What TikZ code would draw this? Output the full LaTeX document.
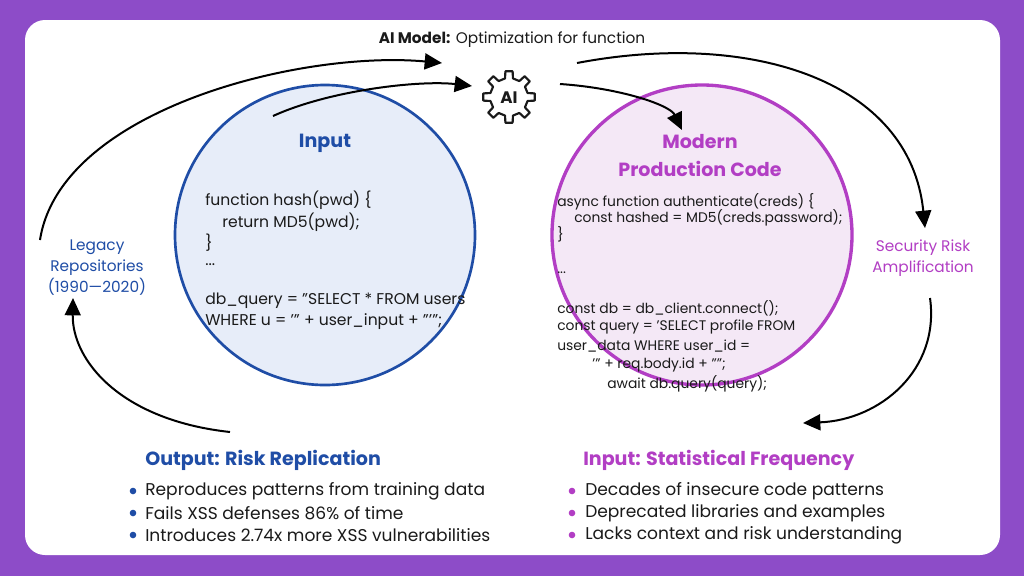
\documentclass[tikz,border=0pt]{standalone}
\usepackage{fontspec}
\setmainfont{Poppins}
\usetikzlibrary{arrows.meta}
\definecolor{bgp}{HTML}{8D4CC8}
\definecolor{bl}{HTML}{1F4DA6}
\definecolor{blf}{HTML}{E7EDF9}
\definecolor{pu}{HTML}{B23EC4}
\definecolor{puf}{HTML}{F4E8F6}
\definecolor{tx}{HTML}{1A1A1A}
\tikzset{
  code/.style={anchor=west,font=\fontsize{11.7}{13}\selectfont,text=tx,inner sep=0},
  codeb/.style={anchor=west,font=\fontsize{10.4}{13}\selectfont,text=tx,inner sep=0},
  arr/.style={line width=1.5pt,-{Triangle[length=13pt,width=12pt]}},
  bul/.style={anchor=west,font=\fontsize{12.8}{14}\selectfont,text=tx,inner sep=0},
  head/.style={font=\bfseries\fontsize{14.3}{16}\selectfont,inner sep=0},
}
\begin{document}
\begin{tikzpicture}[x=0.75pt,y=-0.75pt]
\useasboundingbox (0,0) rectangle (1024,576);
\fill[bgp] (0,0) rectangle (1024,576);
\fill[white,rounded corners=15pt] (25,20) rectangle (1000,555);
% circles
\node[circle,draw=bl,fill=blf,line width=2pt,minimum size=225pt,inner sep=0] (cin) at (325,235) {};
\node[circle,draw=pu,fill=puf,line width=2.5pt,minimum size=225pt,inner sep=0] (cout) at (702,235) {};
% gear
\draw[line width=1.6pt,line join=round,tx,shift={(509,97)}] (-12:19)
  \foreach \i in {0,...,7}{ -- (\i*45-12:19) -- (\i*45-8:26) -- (\i*45+8:26) -- (\i*45+12:19) -- (\i*45+33:19)} -- cycle;
\node[font=\bfseries\fontsize{12.5}{14}\selectfont,text=tx] (ai) at (509,98) {AI};
\node[font=\fontsize{11.5}{14}\selectfont,text=tx] (aim) at (512,40) {\textbf{AI Model:} Optimization for function};
% headings in circles
\node[head,text=bl] (inp) at (325,143) {Input};
\node[head,text=pu,align=center,font=\bfseries\fontsize{14.3}{21}\selectfont] (mod) at (700,156) {Modern\\Production Code};
% left code
\node[code] (l1) at (205,200) {function hash(pwd) \{};
\node[code] (l2) at (222,222) {return MD5(pwd);};
\node[code] (l3) at (205,243) {\}};
\node[code] (l4) at (205,265) {...};
\node[code] (l5) at (205,301) {db\_query = "SELECT * FROM users};
\node[code] (l6) at (205,322) {WHERE u = '" + user\_input + "'";};
% right code
\node[codeb] (r1) at (557,202) {async function authenticate(creds) \{};
\node[codeb] (r2) at (574,218) {const hashed = MD5(creds.password);};
\node[codeb] (r3) at (557,234) {\}};
\node[codeb] (r4) at (557,273) {...};
\node[codeb] (r5) at (557,308) {const db = db\_client.connect();};
\node[codeb] (r6) at (557,327) {const query = 'SELECT profile FROM};
\node[codeb] (r7) at (557,346) {user\_data WHERE user\_id =};
\node[codeb] (r8) at (592,365) {'" + req.body.id + "'';};
\node[codeb] (r9) at (607,384) {await db.query(query);};
% side labels
\node[text=bl,align=center,font=\fontsize{11.5}{15.7}\selectfont] (leg) at (97,268) {Legacy\\Repositories\\(1990—2020)};
\node[text=pu,align=center,font=\fontsize{11.5}{15.7}\selectfont] (sec) at (923,258) {Security Risk\\Amplification};
% arrow coordinates
\coordinate (a1s) at (40,240); \coordinate (a1e) at (442,63);
\coordinate (a2s) at (273,116); \coordinate (a2e) at (472,86);
\coordinate (a3s) at (560,84); \coordinate (a3e) at (682,130);
\coordinate (a4s) at (577,63); \coordinate (a4e) at (925,228);
\coordinate (a5s) at (930,298); \coordinate (a5e) at (803,423);
\coordinate (a6s) at (230,432); \coordinate (a6e) at (73,298);
\draw[arr] (a1s) .. controls (60,110) and (300,50) .. (a1e);
\draw[arr] (a2s) .. controls (330,90) and (420,80) .. (a2e);
\draw[arr] (a3s) .. controls (620,88) and (670,105) .. (a3e);
\draw[arr] (a4s) .. controls (750,30) and (910,80) .. (a4e);
\draw[arr] (a5s) .. controls (940,370) and (880,420) .. (a5e);
\draw[arr] (a6s) .. controls (120,420) and (72,360) .. (a6e);
% bottom lists
\node[head,text=bl,anchor=west] (oh) at (145,460) {Output: Risk Replication};
\node[head,text=pu,anchor=west] (ih) at (583,460) {Input: Statistical Frequency};
\foreach \t/\y [count=\k] in {Reproduces patterns from training data/491,Fails XSS defenses 86\% of time/513,Introduces 2.74x more XSS vulnerabilities/535}{
  \fill[bl] (133,\y) circle (3.3);
  \node[bul] (ob\k) at (145,\y) {\t};}
\foreach \t/\y [count=\k] in {Decades of insecure code patterns/491,Deprecated libraries and examples/513,Lacks context and risk understanding/535}{
  \fill[pu] (572,\y) circle (3.3);
  \node[bul] (ib\k) at (585,\y) {\t};}
\end{tikzpicture}
\end{document}
